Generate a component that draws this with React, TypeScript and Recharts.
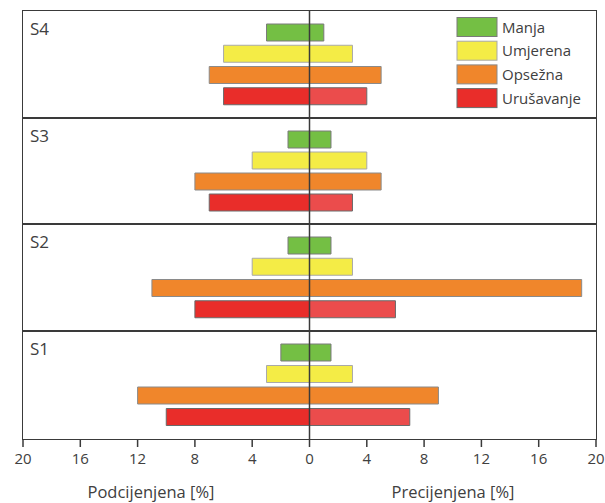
import React from 'react'
import { BarChart, Bar, XAxis, YAxis, Cell, ReferenceLine } from 'recharts'

const categories = ['Manja', 'Umjerena', 'Opsežna', 'Urušavanje']
const scenarios = ['S4', 'S3', 'S2', 'S1']

// underestimated (left) and overestimated (right), in %
const underS4 = [3, 6, 7, 6]
const overS4 = [1, 3, 5, 4]
const underS3 = [1.5, 4, 8, 7]
const overS3 = [1.5, 4, 5, 3]
const underS2 = [1.5, 4, 11, 8]
const overS2 = [1.5, 3, 19, 6]
const underS1 = [2, 3, 12, 10]
const overS1 = [1.5, 3, 9, 7]

const xTicks = [-20, -16, -12, -8, -4, 0, 4, 8, 12, 16, 20]

const leftColors = ['#74bf44', '#f4ec46', '#f0862b', '#e92d2a']
const rightColors = ['#74bf44', '#f4ec46', '#f0862b', '#eb4c4c']
const strokeColors = ['#7a7a7a', '#a9a9a9', '#8a8a8a', '#6a6a6a']

const FONT = '"Open Sans", sans-serif'
const TEXT = '#404040'
const LINE = '#3a3a3a'

const PLOT_LEFT = 23
const PLOT_RIGHT = 596
const panelTops = [11, 118, 224, 331]
const PLOT_BOTTOM = 439
const AXIS_H = 32

const underByPanel = [underS4, underS3, underS2, underS1]
const overByPanel = [overS4, overS3, overS2, overS1]

function buildRows(under: number[], over: number[]) {
    return categories.map((name, i) => ({ name, under: -under[i], over: over[i] }))
}

function Panel({ idx }: { idx: number }) {
    const top = panelTops[idx]
    const bottom = idx < 3 ? panelTops[idx + 1] : PLOT_BOTTOM
    const isLast = idx === 3
    const height = bottom - top + (isLast ? AXIS_H : 0)
    const rows = buildRows(underByPanel[idx], overByPanel[idx])

    return (
        <div style={{ position: 'absolute', left: 0, top }}>
            <BarChart
                width={605}
                height={height}
                data={rows}
                layout="vertical"
                stackOffset="sign"
                barSize={17}
                margin={{ top: 0, right: 605 - PLOT_RIGHT, bottom: 0, left: PLOT_LEFT }}
            >
                <XAxis
                    type="number"
                    domain={[-20, 20]}
                    ticks={xTicks}
                    interval={0}
                    hide={!isLast}
                    height={AXIS_H}
                    axisLine={false}
                    tickLine={{ stroke: LINE, strokeWidth: 1.5 }}
                    tickSize={8}
                    tickMargin={6}
                    tickFormatter={(v: number) => String(Math.abs(v))}
                    tick={{ fill: TEXT, fontSize: 15, fontFamily: FONT }}
                />
                <YAxis type="category" dataKey="name" hide padding={{ top: 11, bottom: 11 }} />
                <Bar dataKey="under" stackId="s" isAnimationActive={false}>
                    {rows.map((r, i) => (
                        <Cell key={`u-${i}`} fill={leftColors[i]} stroke={strokeColors[i]} strokeWidth={1} />
                    ))}
                </Bar>
                <Bar dataKey="over" stackId="s" isAnimationActive={false}>
                    {rows.map((r, i) => (
                        <Cell key={`o-${i}`} fill={rightColors[i]} stroke={strokeColors[i]} strokeWidth={1} />
                    ))}
                </Bar>
                <ReferenceLine x={0} stroke={LINE} strokeWidth={1.5} />
            </BarChart>
        </div>
    )
}

export default function App() {
    return (
        <div
            style={{
                position: 'absolute',
                left: 0,
                top: 0,
                width: 605,
                height: 503,
                background: '#fff',
                overflow: 'hidden',
                fontFamily: FONT,
            }}
        >
            {scenarios.map((s, i) => (
                <Panel key={s} idx={i} />
            ))}

            {/* panel frames */}
            <div
                style={{
                    position: 'absolute',
                    left: PLOT_LEFT - 0.75,
                    top: panelTops[0] - 0.75,
                    width: PLOT_RIGHT - PLOT_LEFT + 1.5,
                    height: PLOT_BOTTOM - panelTops[0] + 1.5,
                    border: `1.5px solid ${LINE}`,
                    boxSizing: 'border-box',
                    pointerEvents: 'none',
                }}
            />
            {panelTops.slice(1).map((t) => (
                <div
                    key={t}
                    style={{
                        position: 'absolute',
                        left: PLOT_LEFT,
                        top: t - 0.75,
                        width: PLOT_RIGHT - PLOT_LEFT,
                        height: 1.5,
                        background: LINE,
                    }}
                />
            ))}

            <svg width={605} height={503} style={{ position: 'absolute', left: 0, top: 0, pointerEvents: 'none' }}>
                {/* Scenario labels */}
                {scenarios.map((s, i) => (
                    <text key={s} x={30} y={panelTops[i] + 23.5} fontSize={17} fill={TEXT} fontFamily={FONT}>
                        {s}
                    </text>
                ))}

                {/* Legend */}
                {categories.map((c, i) => (
                    <g key={c}>
                        <rect
                            x={457}
                            y={17.5 + i * 23.7}
                            width={40}
                            height={19}
                            fill={leftColors[i]}
                            stroke={strokeColors[i]}
                            strokeWidth={1}
                        />
                        <text x={502} y={32.5 + i * 23.7} fontSize={15} fill={TEXT} fontFamily={FONT}>
                            {c}
                        </text>
                    </g>
                ))}

                {/* Axis titles */}
                <text x={151} y={497.5} textAnchor="middle" fontSize={16.5} fill={TEXT} fontFamily={FONT}>
                    Podcijenjena [%]
                </text>
                <text x={453} y={497.5} textAnchor="middle" fontSize={16.5} fill={TEXT} fontFamily={FONT}>
                    Precijenjena [%]
                </text>
            </svg>
        </div>
    )
}
